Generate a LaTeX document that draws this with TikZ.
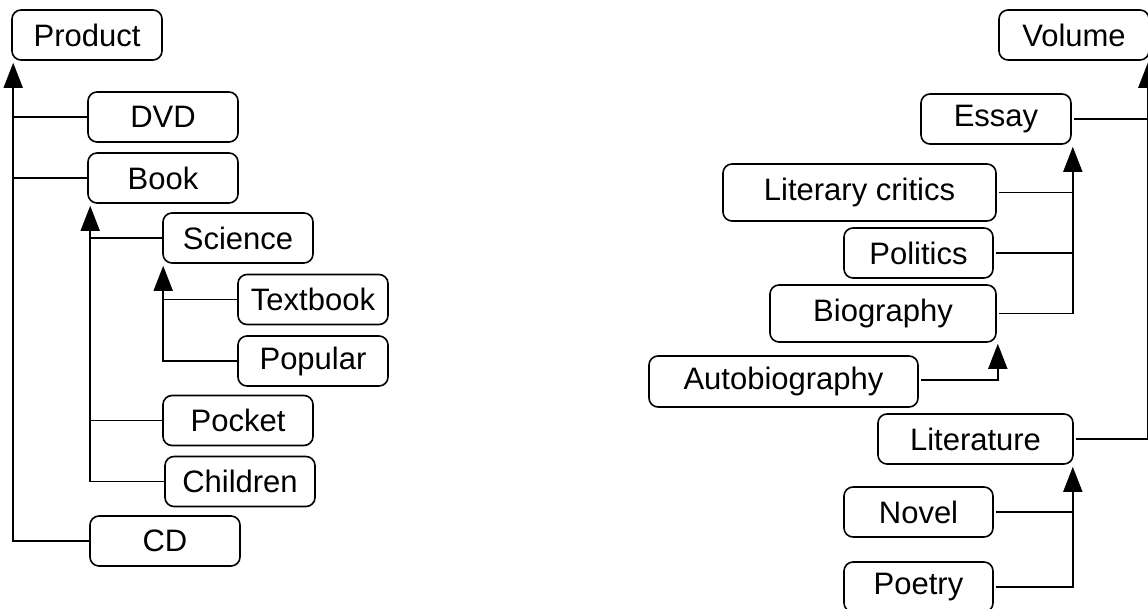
\documentclass[tikz,border=0pt]{standalone}
\usepackage{fontspec}
\setmainfont{Liberation Sans}
\usetikzlibrary{arrows.meta}
\begin{document}
\begin{tikzpicture}[x=1pt,y=-1pt,
  cls/.style={draw,line width=1.6pt,rounded corners=9pt,minimum height=50pt,
    inner sep=0pt,font=\fontsize{31}{35}\selectfont},
  link/.style={line width=1.6pt},
  inherit/.style={link,-{Triangle[length=25pt,width=19pt]}},
  rlink/.style={link,shorten <=2.5pt}]
\clip (0,0) rectangle (1148,609);
\fill[white] (0,0) rectangle (1148,609);

% product hierarchy
\node[cls,minimum width=150pt] (Product)  at (87,35)    {Product};
\node[cls,minimum width=150pt] (DVD)      at (163,117)  {DVD};
\node[cls,minimum width=150pt] (Book)     at (163,178)  {Book};
\node[cls,minimum width=150pt] (Science)  at (238,238)  {Science};
\node[cls,minimum width=150pt] (Textbook) at (313,299.5){Textbook};
\node[cls,minimum width=150pt] (Popular)  at (313,361)  {Popular};
\node[cls,minimum width=150pt] (Pocket)   at (238,420.5){Pocket};
\node[cls,minimum width=150pt] (Children) at (240,481.5){Children};
\node[cls,minimum width=150pt] (CD)       at (165,541)  {CD};

\coordinate (tP) at ([xshift=2pt,yshift=-2pt]Product.south west);
\coordinate (tB) at ([xshift=3pt,yshift=-2pt]Book.south west);
\coordinate (tS) at ([xshift=1pt,yshift=-2pt]Science.south west);

\draw[inherit] (CD.west) -| (tP);
\draw[link] (DVD.west) -- (DVD.west -| tP);
\draw[link] (Book.west) -- (Book.west -| tP);

\draw[inherit] (Children.west) -| (tB);
\draw[link] (Science.west) -- (Science.west -| tB);
\draw[link] (Pocket.west) -- (Pocket.west -| tB);

\draw[inherit] (Popular.west) -| (tS);
\draw[link] (Textbook.west) -- (Textbook.west -| tS);

% volume hierarchy
\node[cls,minimum width=150pt] (Volume)    at (1074,35)    {Volume};
\node[cls,minimum width=150pt] (Essay)     at (996,119)    {Essay};
\node[cls,minimum width=273pt,minimum height=57pt] (Critics) at (859.5,192.5) {Literary critics};
\node[cls,minimum width=149pt] (Politics)  at (918.5,253)  {Politics};
\node[cls,minimum width=226pt,minimum height=57pt] (Biography) at (883,313.5) {Biography};
\node[cls,minimum width=269pt,minimum height=51pt] (Autobio) at (783.5,381.5) {Autobiography};
\node[cls,minimum width=195pt] (Literature) at (975.5,439) {Literature};
\node[cls,minimum width=149pt] (Novel)     at (918.5,512)  {Novel};
\node[cls,minimum width=149pt] (Poetry)    at (918.5,587)  {Poetry};

\coordinate (tV) at ([xshift=-2pt,yshift=-2pt]Volume.south east);
\coordinate (tE) at ([xshift=1pt,yshift=-2pt]Essay.south east);
\coordinate (tG) at ([xshift=1pt,yshift=-1pt]Biography.south east);
\coordinate (tL) at ([xshift=-1pt,yshift=-2pt]Literature.south east);

\draw[inherit,shorten <=2.5pt] (Literature.east) -| (tV);
\draw[rlink] (Essay.east) -- (Essay.east -| tV);

\draw[inherit,shorten <=2.5pt] (Biography.east) -| (tE);
\draw[rlink] (Critics.east) -- (Critics.east -| tE);
\draw[rlink] (Politics.east) -- (Politics.east -| tE);

\draw[inherit,shorten <=2.5pt] ([yshift=1.5pt]Autobio.east) -| (tG);

\draw[inherit,shorten <=2.5pt] (Poetry.east) -| (tL);
\draw[rlink] (Novel.east) -- (Novel.east -| tL);
\end{tikzpicture}
\end{document}
